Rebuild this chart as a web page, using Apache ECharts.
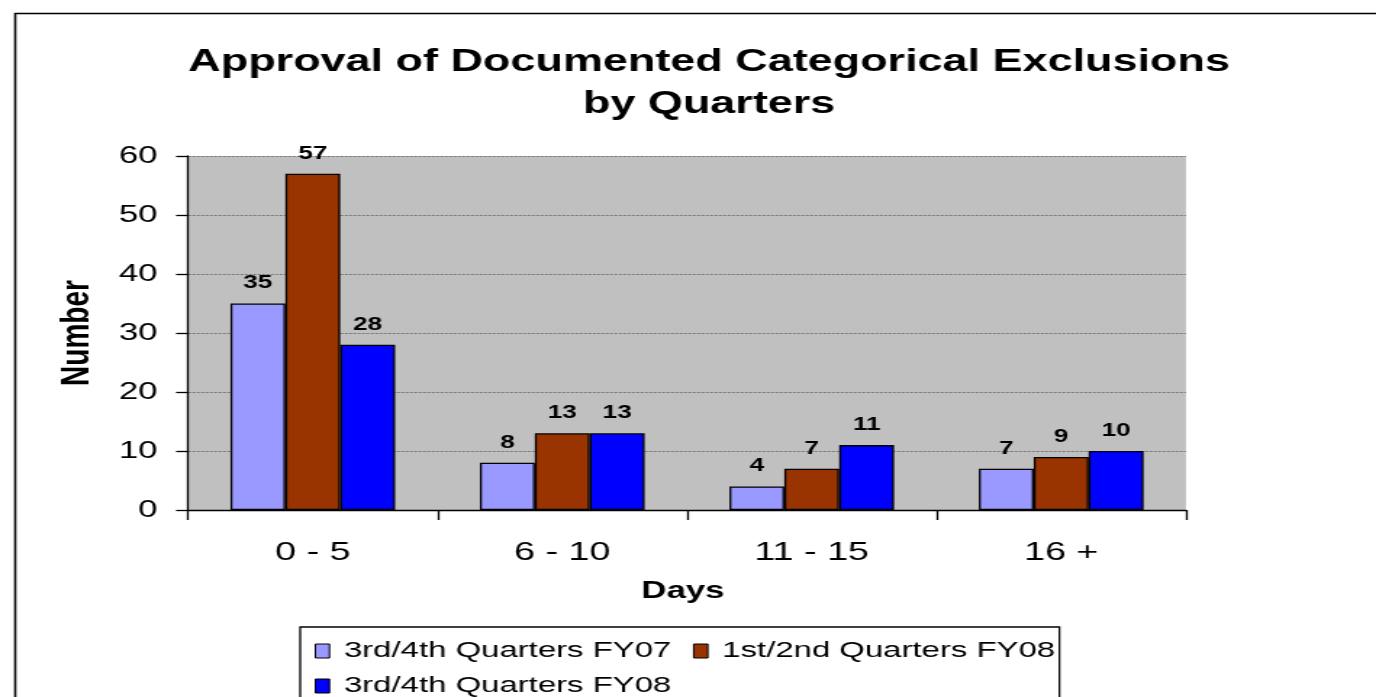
<!DOCTYPE html>
<html>
<head>
<meta charset="utf-8">
<script src="https://cdn.jsdelivr.net/npm/echarts@6/dist/echarts.min.js"></script>
<style>
html,body{margin:0;padding:0;background:#fff;overflow:hidden;}
#wrap{width:1376px;height:697px;overflow:hidden;position:relative;}
#c{width:949px;height:697px;transform:scaleX(1.45);transform-origin:0 0;}
</style>
</head>
<body>
<div id="wrap"><div id="c"></div></div>
<script>
const categories = ['0 - 5', '6 - 10', '11 - 15', '16 +'];
const seriesNames = ['3rd/4th Quarters FY07', '1st/2nd Quarters FY08', '3rd/4th Quarters FY08'];
const fy07_q34 = [35, 8, 4, 7];
const fy08_q12 = [57, 13, 7, 9];
const fy08_q34 = [28, 13, 11, 10];
const colors = ['#9999FF', '#993300', '#0000FF'];

const chart = echarts.init(document.getElementById('c'), null, {renderer: 'canvas'});
const FONT = 'Liberation Sans';

function mk(name, data, color) {
  return {
    name: name,
    type: 'bar',
    data: data,
    barGap: '0%',
    barCategoryGap: '34%',
    itemStyle: {color: color, borderColor: '#000', borderWidth: 1.3},
    label: {show: true, position: 'top', distance: 11, fontFamily: FONT, fontWeight: 'bold', fontSize: 18, color: '#000'}
  };
}

chart.setOption({
  animation: false,
  backgroundColor: '#fff',
  textStyle: {fontFamily: FONT},
  title: {
    text: 'Approval of Documented Categorical Exclusions\nby Quarters',
    left: 489, top: 41, textAlign: 'center', padding: 0,
    textStyle: {fontFamily: FONT, fontWeight: 'bold', fontSize: 31, lineHeight: 42, color: '#000'}
  },
  graphic: [{
    type: 'rect', left: 8, top: 11, z: -1,
    shape: {width: 1000, height: 720},
    style: {fill: 'none', stroke: '#000', lineWidth: 1.6}
  }],
  legend: {
    data: seriesNames,
    left: 207, top: 627, width: 530,
    orient: 'horizontal',
    padding: [12.5, 0, 30, 10],
    itemGap: 12,
    itemWidth: 9.7, itemHeight: 14,
    icon: 'rect',
    borderColor: '#000', borderWidth: 1.3,
    textStyle: {fontFamily: FONT, fontSize: 22.7, color: '#000', lineHeight: 18, padding: [0, 3, 0, 5]},
    itemStyle: {borderColor: '#000', borderWidth: 1}
  },
  grid: {left: 129.7, right: 131.1, top: 156, bottom: 187, show: true, backgroundColor: '#C0C0C0', borderWidth: 0},
  xAxis: {
    type: 'category',
    data: categories,
    name: 'Days', nameLocation: 'middle', nameGap: 69,
    nameTextStyle: {fontFamily: FONT, fontWeight: 'bold', fontSize: 24, color: '#000', padding: [0, 5.6, 0, 0]},
    axisLine: {lineStyle: {color: '#000', width: 1.3}},
    axisTick: {show: true, length: 10, lineStyle: {color: '#000', width: 1.3}},
    axisLabel: {fontFamily: FONT, fontSize: 26, color: '#000', margin: 30}
  },
  yAxis: {
    type: 'value', min: 0, max: 60, interval: 10,
    name: 'Number', nameLocation: 'middle', nameGap: 62, nameRotate: 90,
    nameTextStyle: {fontFamily: FONT, fontWeight: 'bold', fontSize: 28, color: '#000'},
    axisLine: {show: true, lineStyle: {color: '#000', width: 1.3}},
    axisTick: {show: true, length: 8.3, lineStyle: {color: '#000', width: 1.3}},
    axisLabel: {fontFamily: FONT, fontSize: 24, color: '#000', margin: 21},
    splitLine: {show: true, lineStyle: {color: '#777', type: [2, 1], width: 1}}
  },
  series: [
    mk(seriesNames[0], fy07_q34, colors[0]),
    mk(seriesNames[1], fy08_q12, colors[1]),
    mk(seriesNames[2], fy08_q34, colors[2])
  ]
});
</script>
</body>
</html>
